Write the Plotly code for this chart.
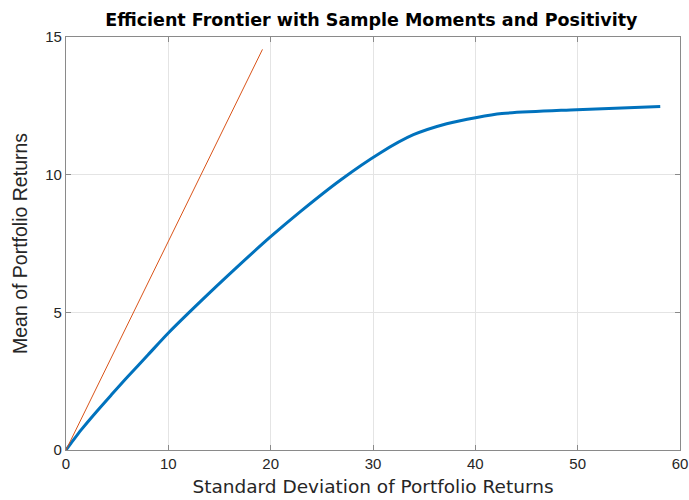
import plotly.graph_objects as go

# Efficient frontier: portfolio risk (std dev) vs expected return
frontier_std = [0.0, 0.5, 1.5, 3.0, 4.5, 6.0, 8.0, 10.0, 13.1, 16.5, 19.94, 22.9,
                26.8, 30.7, 33.95, 37.2, 40.15, 42.6, 49.9, 58.07]
frontier_mean = [0.0, 0.25, 0.74, 1.4, 2.03, 2.65, 3.45, 4.25, 5.38, 6.57, 7.73, 8.66,
                 9.8, 10.79, 11.45, 11.85, 12.08, 12.22, 12.36, 12.48]

# Tangent line from the origin
tangent_std = [0.0, 19.2]
tangent_mean = [0.0, 14.55]

sans = "Liberation Sans, Arial, sans-serif"
wide = "DejaVu Sans, sans-serif"
axis_color = "#8a8a8a"
text_color = "#262626"

fig = go.Figure()
fig.add_trace(go.Scatter(x=frontier_std, y=frontier_mean, mode="lines",
                         line=dict(color="#0072BD", width=3, shape="spline", smoothing=0.8),
                         showlegend=False))
fig.add_trace(go.Scatter(x=tangent_std, y=tangent_mean, mode="lines",
                         line=dict(color="#D95319", width=1), showlegend=False))

axis_common = dict(
    showline=True, linecolor=axis_color, linewidth=1.3, mirror="ticks",
    ticks="inside", ticklen=5, tickcolor=axis_color, tickwidth=1,
    showgrid=True, gridcolor="#e4e4e4", gridwidth=1, zeroline=False,
    tickfont=dict(family=sans, size=15, color=text_color),
    automargin=False,
)

fig.update_xaxes(range=[0, 60], tickvals=[0, 10, 20, 30, 40, 50, 60],
                 title=dict(text="Standard Deviation of Portfolio Returns",
                            font=dict(family=wide, size=18.5, color=text_color),
                            standoff=8),
                 **axis_common)
fig.update_yaxes(range=[0, 15], tickvals=[0, 5, 10, 15],
                 title=dict(text="Mean of Portfolio Returns",
                            font=dict(family=sans, size=19.5, color=text_color),
                            standoff=12),
                 **axis_common)

fig.update_layout(
    width=689, height=500,
    margin=dict(l=66, r=9, t=37, b=50),
    paper_bgcolor="white", plot_bgcolor="white",
    title=dict(text="<b>Efficient Frontier with Sample Moments and Positivity</b>",
               font=dict(family=wide, size=17.5, color="#000000"),
               x=0.539, xanchor="center", y=0.96, yanchor="middle"),
)

fig.write_html("out.html")
